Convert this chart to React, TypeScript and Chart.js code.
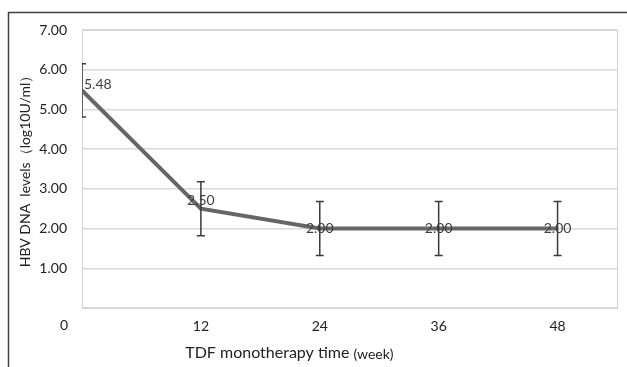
import React, { useEffect, useRef } from "react";
import { Chart, registerables } from "chart.js";

Chart.register(...registerables);

const weeks = [0, 12, 24, 36, 48];
const meanLevels = [5.48, 2.5, 2.0, 2.0, 2.0];
const sdLevels = [0.67, 0.68, 0.68, 0.68, 0.68];
const xTickValues = [0, 12, 24, 36, 48];
const yTickValues = [1, 2, 3, 4, 5, 6, 7];

const FONT = "Lato, 'Open Sans', 'Liberation Sans', sans-serif";

const decorPlugin = {
  id: "decor",
  beforeDraw(chart: any) {
    const { ctx, chartArea } = chart;
    ctx.save();
    ctx.fillStyle = "#ffffff";
    ctx.fillRect(0, 0, chart.width, chart.height);
    // outer frame
    ctx.strokeStyle = "#404040";
    ctx.lineWidth = 1.5;
    ctx.beginPath();
    ctx.moveTo(8.5, chart.height + 5);
    ctx.lineTo(8.5, 12.5);
    ctx.lineTo(chart.width + 5, 12.5);
    ctx.stroke();
    ctx.restore();
  },
  afterDatasetsDraw(chart: any) {
    const { ctx, chartArea } = chart;
    const xs = chart.scales.x;
    const ys = chart.scales.y;
    // plot border
    ctx.save();
    ctx.strokeStyle = "#d4d4d4";
    ctx.lineWidth = 1;
    ctx.strokeRect(
      Math.round(chartArea.left) + 0.5,
      Math.round(chartArea.top) + 0.5,
      Math.round(chartArea.right - chartArea.left),
      Math.round(chartArea.bottom - chartArea.top)
    );
    ctx.restore();

    // error bars
    ctx.save();
    ctx.beginPath();
    ctx.rect(chartArea.left, 0, chartArea.right - chartArea.left, chart.height);
    ctx.clip();
    ctx.strokeStyle = "#3a3a3a";
    ctx.lineWidth = 1.5;
    const cap = 4;
    weeks.forEach((w, i) => {
      const x = xs.getPixelForValue(w);
      const yt = ys.getPixelForValue(meanLevels[i] + sdLevels[i]);
      const yb = ys.getPixelForValue(meanLevels[i] - sdLevels[i]);
      ctx.beginPath();
      ctx.moveTo(x, yt);
      ctx.lineTo(x, yb);
      ctx.moveTo(x - cap, yt);
      ctx.lineTo(x + cap, yt);
      ctx.moveTo(x - cap, yb);
      ctx.lineTo(x + cap, yb);
      ctx.stroke();
    });
    ctx.restore();

    // data labels
    ctx.save();
    ctx.fillStyle = "#404040";
    ctx.font = `14px ${FONT}`;
    ctx.textBaseline = "middle";
    weeks.forEach((w, i) => {
      const x = xs.getPixelForValue(w);
      const y = ys.getPixelForValue(meanLevels[i]);
      const txt = meanLevels[i].toFixed(2);
      if (i === 0) {
        ctx.textAlign = "left";
        ctx.fillText(txt, x + 2, y - 6);
      } else if (i === 1) {
        ctx.textAlign = "center";
        ctx.fillText(txt, x, y - 8);
      } else {
        ctx.textAlign = "center";
        ctx.fillText(txt, x, y);
      }
    });
    ctx.restore();
  },
  afterDraw(chart: any) {
    const { ctx, chartArea } = chart;
    const xs = chart.scales.x;
    ctx.save();
    ctx.fillStyle = "#222";
    // "0" category label (sits left of the axis start)
    ctx.font = `14px ${FONT}`;
    ctx.textAlign = "center";
    ctx.textBaseline = "middle";
    ctx.fillText(String(xTickValues[0]), xs.getPixelForValue(xTickValues[0]) - 18, chartArea.bottom + 17);

    // x title
    const tx = chartArea.left + (chartArea.right - chartArea.left) * 0.193;
    const ty = chartArea.bottom + 45;
    ctx.textAlign = "left";
    ctx.textBaseline = "middle";
    ctx.font = `16px ${FONT}`;
    const t1 = "TDF monotherapy time ";
    ctx.fillText(t1, tx, ty);
    const w1 = ctx.measureText(t1).width;
    ctx.font = `14px ${FONT}`;
    ctx.fillText("(week)", tx + w1, ty + 1);

    // y title
    ctx.translate(25, (chartArea.top + chartArea.bottom) / 2 - 1);
    ctx.rotate(-Math.PI / 2);
    ctx.textAlign = "center";
    ctx.font = `14px ${FONT}`;
    ctx.fillText("HBV DNA  levels（log10U/ml）", 0, 0);
    ctx.restore();
  },
};

export default function App() {
  const ref = useRef<HTMLCanvasElement | null>(null);
  useEffect(() => {
    if (!ref.current) return;
    const chart = new Chart(ref.current, {
      type: "line",
      data: {
        datasets: [
          {
            data: weeks.map((w, i) => ({ x: w, y: meanLevels[i] })),
            borderColor: "#666666",
            borderWidth: 4,
            pointRadius: 0,
            tension: 0,
            fill: false,
          },
        ],
      },
      options: {
        animation: false,
        responsive: false,
        layout: { padding: { top: 30, right: 10, left: 0, bottom: 0 } },
        plugins: {
          legend: { display: false },
          tooltip: { enabled: false },
        },
        scales: {
          x: {
            type: "linear",
            min: 0,
            max: 54,
            afterBuildTicks: (s: any) => {
              s.ticks = xTickValues.map((v) => ({ value: v }));
            },
            afterFit: (s: any) => {
              s.height = 59;
            },
            grid: { display: false, drawTicks: false },
            border: { display: false },
            ticks: {
              padding: 10,
              color: "#222",
              font: { family: FONT, size: 14 },
              callback: (v: any) => (v === 0 ? "" : String(v)),
              maxRotation: 0,
              autoSkip: false,
            },
          },
          y: {
            min: 0,
            max: 7,
            afterBuildTicks: (s: any) => {
              s.ticks = [0, ...yTickValues].map((v) => ({ value: v }));
            },
            afterFit: (s: any) => {
              s.width = 82;
            },
            grid: { color: "#d9d9d9", lineWidth: 1.5, drawTicks: false },
            border: { display: false },
            ticks: {
              padding: 15,
              color: "#222",
              font: { family: FONT, size: 14 },
              callback: (v: any) => (v === 0 ? "" : Number(v).toFixed(2)),
            },
          },
        },
      },
      plugins: [decorPlugin],
    } as any);
    return () => chart.destroy();
  }, []);
  return (
    <div style={{ position: "fixed", left: 0, top: 0, width: 627, height: 367, background: "#fff" }}>
      <canvas ref={ref} width={627} height={367} style={{ display: "block" }} />
    </div>
  );
}
